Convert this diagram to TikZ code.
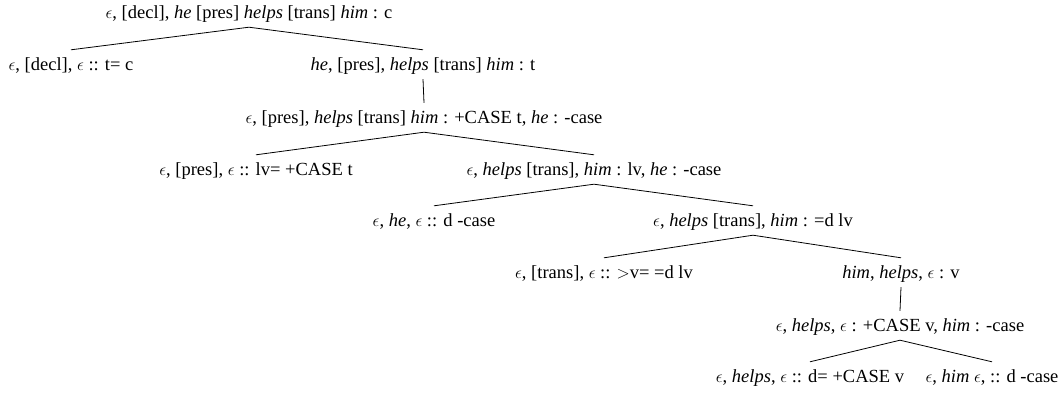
\documentclass[tikz,border=0pt]{standalone}
\usepackage{fontspec}
\setmainfont{Liberation Serif}
\newcommand{\eps}{$\epsilon$}
\begin{document}
\begin{tikzpicture}[x=1pt,y=-1pt,
  lbl/.style={anchor=base, inner xsep=0pt, inner ysep=5pt, text height=15pt, text depth=4pt, font=\fontsize{18.5}{22}\selectfont},
  edge/.style={line width=0.8pt}]
\useasboundingbox (0,0) rectangle (1061,394);
\node[lbl] (root) at (249,18) {\eps, [decl], \textit{he} [pres] \textit{helps} [trans] \textit{him} : c};
\node[lbl] (n2l) at (71,70) {\eps, [decl], \eps\ :: t= c};
\node[lbl] (n2r) at (423,70) {\textit{he}, [pres], \textit{helps} [trans] \textit{him} : t};
\node[lbl] (n3) at (424,123) {\eps, [pres], \textit{helps} [trans] \textit{him} : +CASE t, \textit{he} : -case};
\node[lbl] (n4l) at (256,175) {\eps, [pres], \eps\ :: lv= +CASE t};
\node[lbl] (n4r) at (594,175) {\eps, \textit{helps} [trans], \textit{him} : lv, \textit{he} : -case};
\node[lbl] (n5l) at (434,226) {\eps, \textit{he}, \eps\ :: d -case};
\node[lbl] (n5r) at (753,226) {\eps, \textit{helps} [trans], \textit{him} : =d lv};
\node[lbl] (n6l) at (604,278) {\eps, [trans], \eps\ :: $>$v= =d lv};
\node[lbl] (n6r) at (901,278) {\textit{him}, \textit{helps}, \eps\ : v};
\node[lbl] (n7) at (900,331) {\eps, \textit{helps}, \eps\ : +CASE v, \textit{him} : -case};
\node[lbl] (n8l) at (810,382) {\eps, \textit{helps}, \eps\ :: d= +CASE v};
\node[lbl] (n8r) at (992,382) {\eps, \textit{him} \eps, :: d -case};
\draw[edge] (root.south) -- (n2l.north);
\draw[edge] (root.south) -- (n2r.north);
\draw[edge] (n2r.south) -- (n3.north);
\draw[edge] (n3.south) -- (n4l.north);
\draw[edge] (n3.south) -- (n4r.north);
\draw[edge] (n4r.south) -- (n5l.north);
\draw[edge] (n4r.south) -- (n5r.north);
\draw[edge] (n5r.south) -- (n6l.north);
\draw[edge] (n5r.south) -- (n6r.north);
\draw[edge] (n6r.south) -- (n7.north);
\draw[edge] (n7.south) -- (n8l.north);
\draw[edge] (n7.south) -- (n8r.north);
\end{tikzpicture}
\end{document}
